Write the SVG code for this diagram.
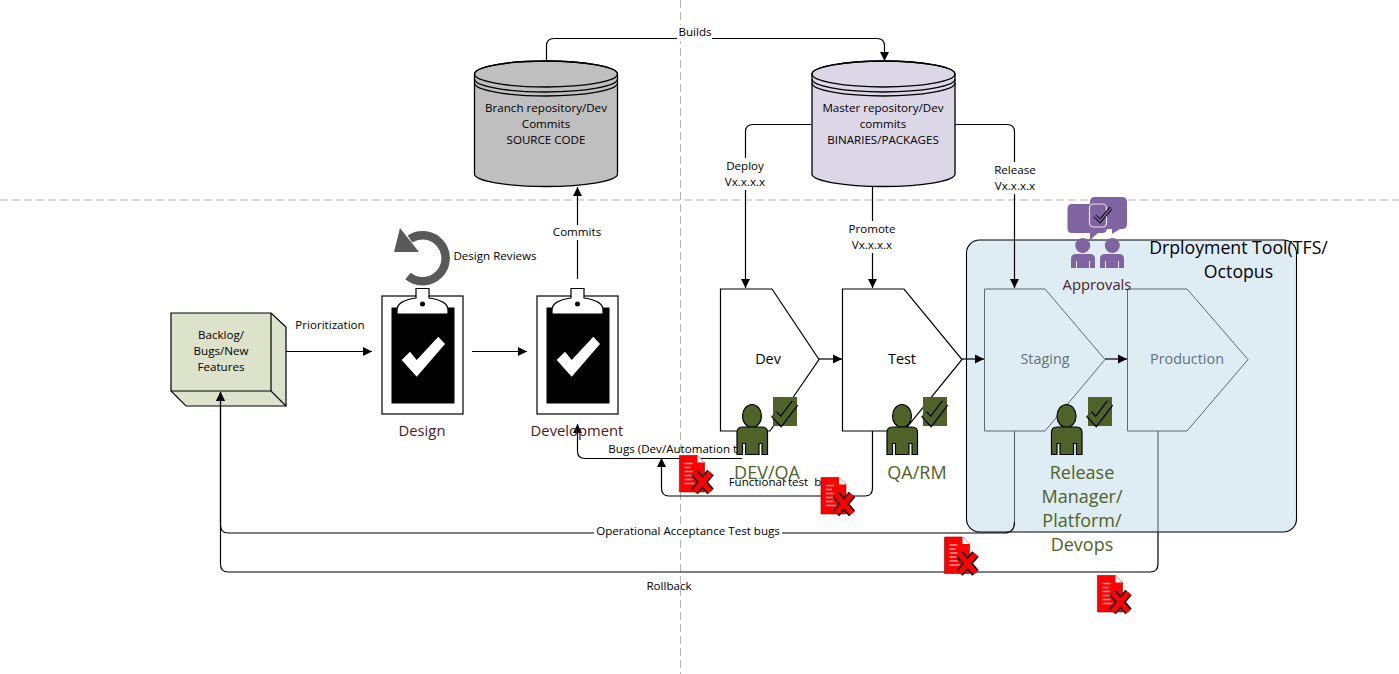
<svg xmlns="http://www.w3.org/2000/svg" xmlns:xlink="http://www.w3.org/1999/xlink" width="1399" height="674" viewBox="0 0 1399 674">
<style>
text{font-family:"Open Sans","Noto Sans","Liberation Sans",sans-serif;font-size:11.6px;fill:#000;text-anchor:middle;dominant-baseline:central;transform:translateY(-1px)}
.big{font-size:14.8px;fill:#4f2020}
.grn{font-size:18px;fill:#4f6228}
.pent{font-size:14.4px}
.dash{stroke:#b5b5b5;stroke-width:1;stroke-dasharray:8 4;fill:none}
.c{fill:none;stroke:#000;stroke-width:1.2}
.cg{fill:none;stroke:#4e5e68;stroke-width:1.1}
.lb{fill:#fff}
.p{fill:#fff;stroke:#000;stroke-width:1.2}
.pg{fill:none;stroke:#5a6a74;stroke-width:1}
.cyl{stroke:#000;stroke-width:1.3}
.ring{fill:none;stroke:#000;stroke-width:1.3}
</style>
<defs>
<marker id="a" markerUnits="userSpaceOnUse" markerWidth="10" markerHeight="10" refX="9" refY="5" orient="auto"><path d="M0,0.5 L9,5 L0,9.5 Z" fill="#000"/></marker>
<g id="clip">
<rect x="0" y="0" width="81" height="118" fill="#fff" stroke="#000" stroke-width="1.2"/>
<rect x="10" y="12" width="62" height="95" fill="#000" stroke="#000"/>
<path d="M15,18 V14 C15,7 22,4 34,2 V-7.5 H47 V2 C59,4 66,7 66,14 V18 Z" fill="#fff" stroke="#000" stroke-width="1.2"/>
<circle cx="40.5" cy="8" r="2.5" fill="#000"/>
<path d="M19.7,64 L28,55.7 L34.7,64 L56.3,40.7 L63,48 L34.7,80.7 Z" fill="#fff"/>
</g>
<g id="person">
<ellipse cx="15.5" cy="11.5" rx="9.5" ry="11.5" fill="#4f6228" stroke="#000" stroke-width="1.2"/>
<path d="M0.5,50 V28 Q0.5,22.5 6,22.5 H25.5 Q31,22.5 31,28 V50 H25.5 V39 H22.5 V50 H9 V39 H6 V50 Z" fill="#4f6228" stroke="#000" stroke-width="1.2"/>
</g>
<g id="tick">
<rect x="0" y="0" width="24" height="29" fill="#4f6228"/>
<path d="M1,17 L8,24.5 L22,6" fill="none" stroke="#000" stroke-width="8"/>
<path d="M1,17 L8,24.5 L22,6" fill="none" stroke="#4f6228" stroke-width="5.5"/>
</g>
<g id="doc">
<path d="M0,0 H18 L25,7 V36.5 H0 Z" fill="#f00" stroke="#900" stroke-width=".6"/>
<path d="M18,0 L25,7 H18 Z" fill="#fff"/>
<path d="M5,8 H13 M5,12 H11 M5,16 H13 M5,20 H17 M5,24 H13 M5,28 H15" stroke="#ff9c9c" stroke-width="1.3"/>
<path d="M15,17 L31,36 M31,17 L15,36" stroke="#000" stroke-width="8.5"/>
<path d="M15,17 L31,36 M31,17 L15,36" stroke="#f00" stroke-width="5.5"/>
</g>
</defs>
<rect width="1399" height="674" fill="#fff"/>
<path class="dash" d="M0,200 H1399"/>
<path class="dash" d="M680.5,0 V674"/>

<g id="panel"><rect x="966.5" y="240" width="330" height="292" rx="13" fill="#deecf4" stroke="#000" stroke-width="1.1"/>
<text x="1238.5" y="248" style="font-size:17.7px">Drployment Tool(TFS/</text>
<text x="1238.5" y="272" style="font-size:17.7px">Octopus</text></g>

<g id="backlog">
<path d="M171,313 H271 L286,327 V406 H186 L171,391 Z" fill="#dde2cb" stroke="#000" stroke-width="1.2"/>
<path d="M171,391 H271 V313 M271,391 L286,406" fill="none" stroke="#000" stroke-width="1.2"/>
<text x="221" y="335">Backlog/</text><text x="221" y="351">Bugs/New</text><text x="221" y="367">Features</text>
</g>

<g id="connectors">
<path class="c" marker-end="url(#a)" d="M286,351.5 H372"/>
<path class="c" marker-end="url(#a)" d="M472,351.5 H527"/>
<path class="c" marker-end="url(#a)" d="M577.5,279 V187"/>
<path class="c" marker-end="url(#a)" d="M546.5,61 V46 Q546.5,38.5 554,38.5 H877 Q884.5,38.5 884.5,46 V61"/>
<path class="c" marker-end="url(#a)" d="M811,124.5 H753 Q745.5,124.5 745.5,132 V288"/>
<path class="c" marker-end="url(#a)" d="M872.5,187 V288"/>
<path class="c" marker-end="url(#a)" d="M955,124.5 H1007 Q1014.5,124.5 1014.5,132 V288"/>
<path class="c" marker-end="url(#a)" d="M819,359 H842"/>
<path class="c" marker-end="url(#a)" d="M962,359 H984"/>
<path class="c" marker-end="url(#a)" d="M1105,359 H1127"/>
<path class="c" marker-end="url(#a)" d="M742,458.5 H585 Q577.5,458.5 577.5,451 V424"/>
<path class="c" marker-end="url(#a)" d="M872.5,431 V488 Q872.5,496 865,496 H669 Q661.5,496 661.5,488 V458"/>
<path class="cg" d="M1014.5,431 V522"/>
<path class="c" marker-end="url(#a)" d="M1014.5,522 Q1014.5,533 1004,533 H228 Q220.5,533 220.5,525 V392"/>
<path class="cg" d="M1158,431 V532"/>
<path class="c" marker-end="url(#a)" d="M1158,532 V564 Q1158,572 1150,572 H228 Q220.5,572 220.5,564 V392"/>
<rect class="lb" x="677" y="25" width="35" height="16"/><text x="695" y="32">Builds</text>
<rect class="lb" x="552" y="225" width="52" height="15"/><text x="577" y="232">Commits</text>
<rect class="lb" x="722" y="158" width="46" height="32"/><text x="745" y="166">Deploy</text><text x="745" y="182">Vx.x.x.x</text>
<rect class="lb" x="848" y="221" width="48" height="32"/><text x="872" y="229">Promote</text><text x="872" y="245">Vx.x.x.x</text>
<rect class="lb" x="992" y="162" width="46" height="32"/><text x="1015" y="170">Release</text><text x="1015" y="186">Vx.x.x.x</text>
<rect class="lb" x="594" y="524" width="188" height="15"/><text x="688" y="531">Operational Acceptance Test bugs</text>
<text x="669" y="586">Rollback</text>
<text x="330" y="325">Prioritization</text>
<text x="495" y="256">Design Reviews</text>
</g>

<g id="design">
<path d="M410,239 A23,23 0 1 1 408,276" fill="none" stroke="#595959" stroke-width="8.5"/>
<path d="M400,228 L419,252 L394,252 Z" fill="#595959"/>
<use xlink:href="#clip" href="#clip" x="382" y="296"/>
<text class="big" x="422" y="431">Design</text>
</g>
<g id="development">
<use xlink:href="#clip" href="#clip" x="537" y="296"/>
<text class="big" x="577" y="431">Development</text>
</g>

<g id="branch-repo">
<path class="cyl" d="M474.5,74 A71.5,13 0 0 1 617.5,74 V174 A71.5,12.5 0 0 1 474.5,174 Z" fill="#bfbfbf"/>
<ellipse class="ring" cx="546" cy="74" rx="71.5" ry="13"/>
<path class="ring" d="M474.5,79 A71.5,13 0 0 0 617.5,79 M474.5,83 A71.5,13 0 0 0 617.5,83"/>
<text x="546" y="108">Branch repository/Dev</text><text x="546" y="124">Commits</text><text x="546" y="140">SOURCE CODE</text>
</g>
<g id="master-repo">
<path class="cyl" d="M812,74 A71.5,13 0 0 1 955,74 V174 A71.5,12.5 0 0 1 812,174 Z" fill="#dcd7e6"/>
<ellipse class="ring" cx="883.5" cy="74" rx="71.5" ry="13"/>
<path class="ring" d="M812,79 A71.5,13 0 0 0 955,79 M812,83 A71.5,13 0 0 0 955,83"/>
<text x="883" y="108">Master repository/Dev</text><text x="883" y="124">commits</text><text x="883" y="140">BINARIES/PACKAGES</text>
</g>

<g id="dev"><path class="p" d="M720.5,289 H772 L819,359.5 L770,431 H720.5 Z"/><text class="pent" x="768" y="359">Dev</text></g>
<g id="test"><path class="p" d="M842.5,289 H904 L962,359.5 L904,431 H842.5 Z"/><text class="pent" x="902" y="359">Test</text></g>
<g id="staging"><path class="pg" d="M984.5,289 H1045 L1105,359.5 L1045,431 H984.5 Z"/><text class="pent" x="1045" y="359" style="fill:#5e7280">Staging</text></g>
<g id="production"><path class="pg" d="M1127.5,289 H1187 L1248,359.5 L1187,431 H1127.5 Z"/><text class="pent" x="1187" y="359" style="fill:#5e7280">Production</text></g>

<g id="bug-labels"><text x="676" y="449">Bugs (Dev/Automation te</text><text x="775" y="482">Functional test&#160; b</text></g>

<g id="dev-qa"><use xlink:href="#tick" href="#tick" x="773" y="397"/><use xlink:href="#person" href="#person" x="736.5" y="404.5"/><text class="grn" x="767" y="473">DEV/QA</text></g>
<g id="qa-rm"><use xlink:href="#tick" href="#tick" x="923" y="397"/><use xlink:href="#person" href="#person" x="886.5" y="404.5"/><text class="grn" x="917" y="473">QA/RM</text></g>
<g id="release-manager"><use xlink:href="#tick" href="#tick" x="1088" y="397"/><use xlink:href="#person" href="#person" x="1051" y="404.5"/>
<text class="grn" x="1082" y="473">Release</text><text class="grn" x="1082" y="497">Manager/</text><text class="grn" x="1082" y="521">Platform/</text><text class="grn" x="1082" y="545">Devops</text></g>

<g id="approvals">
<path d="M1072,204 H1102 Q1107,204 1107,209 V228 Q1107,233 1102,233 H1098 L1090,240 V233 H1072 Q1067.5,233 1067.5,228 V209 Q1067.5,204 1072,204 Z" fill="#8064a2"/>
<path d="M1095,197 H1122 Q1127,197 1127,202 V224 Q1127,229 1122,229 H1120 L1112,234 V229 H1095 Q1090,229 1090,224 V202 Q1090,197 1095,197 Z" fill="#8064a2"/>
<rect x="1089.5" y="204" width="17" height="23" rx="4" fill="none" stroke="#e8e0f0" stroke-width="1.2"/>
<path d="M1095,216 L1100,221 L1111,208" fill="none" stroke="#000" stroke-width="3.6"/>
<path d="M1095,216 L1100,221 L1111,208" fill="none" stroke="#8064a2" stroke-width="1.8"/>
<circle cx="1082.7" cy="245.5" r="7.5" fill="#8064a2"/><path d="M1071,268 V259 Q1071,254 1076,254 H1090 Q1095,254 1095,259 V268 H1090 V261 H1089 V268 H1077 V261 H1076 V268 Z" fill="#8064a2"/>
<circle cx="1112.3" cy="245.5" r="7.5" fill="#8064a2"/><path d="M1100,268 V259 Q1100,254 1105,254 H1119 Q1124,254 1124,259 V268 H1119 V261 H1118 V268 H1106 V261 H1105 V268 Z" fill="#8064a2"/>
<text class="big" x="1097" y="285">Approvals</text>
</g>

<g id="bug-docs">
<use xlink:href="#doc" href="#doc" x="679.5" y="455.5"/>
<use xlink:href="#doc" href="#doc" x="821" y="477.5"/>
<use xlink:href="#doc" href="#doc" x="944.5" y="537"/>
<use xlink:href="#doc" href="#doc" x="1097.5" y="575.5"/>
</g>
</svg>
